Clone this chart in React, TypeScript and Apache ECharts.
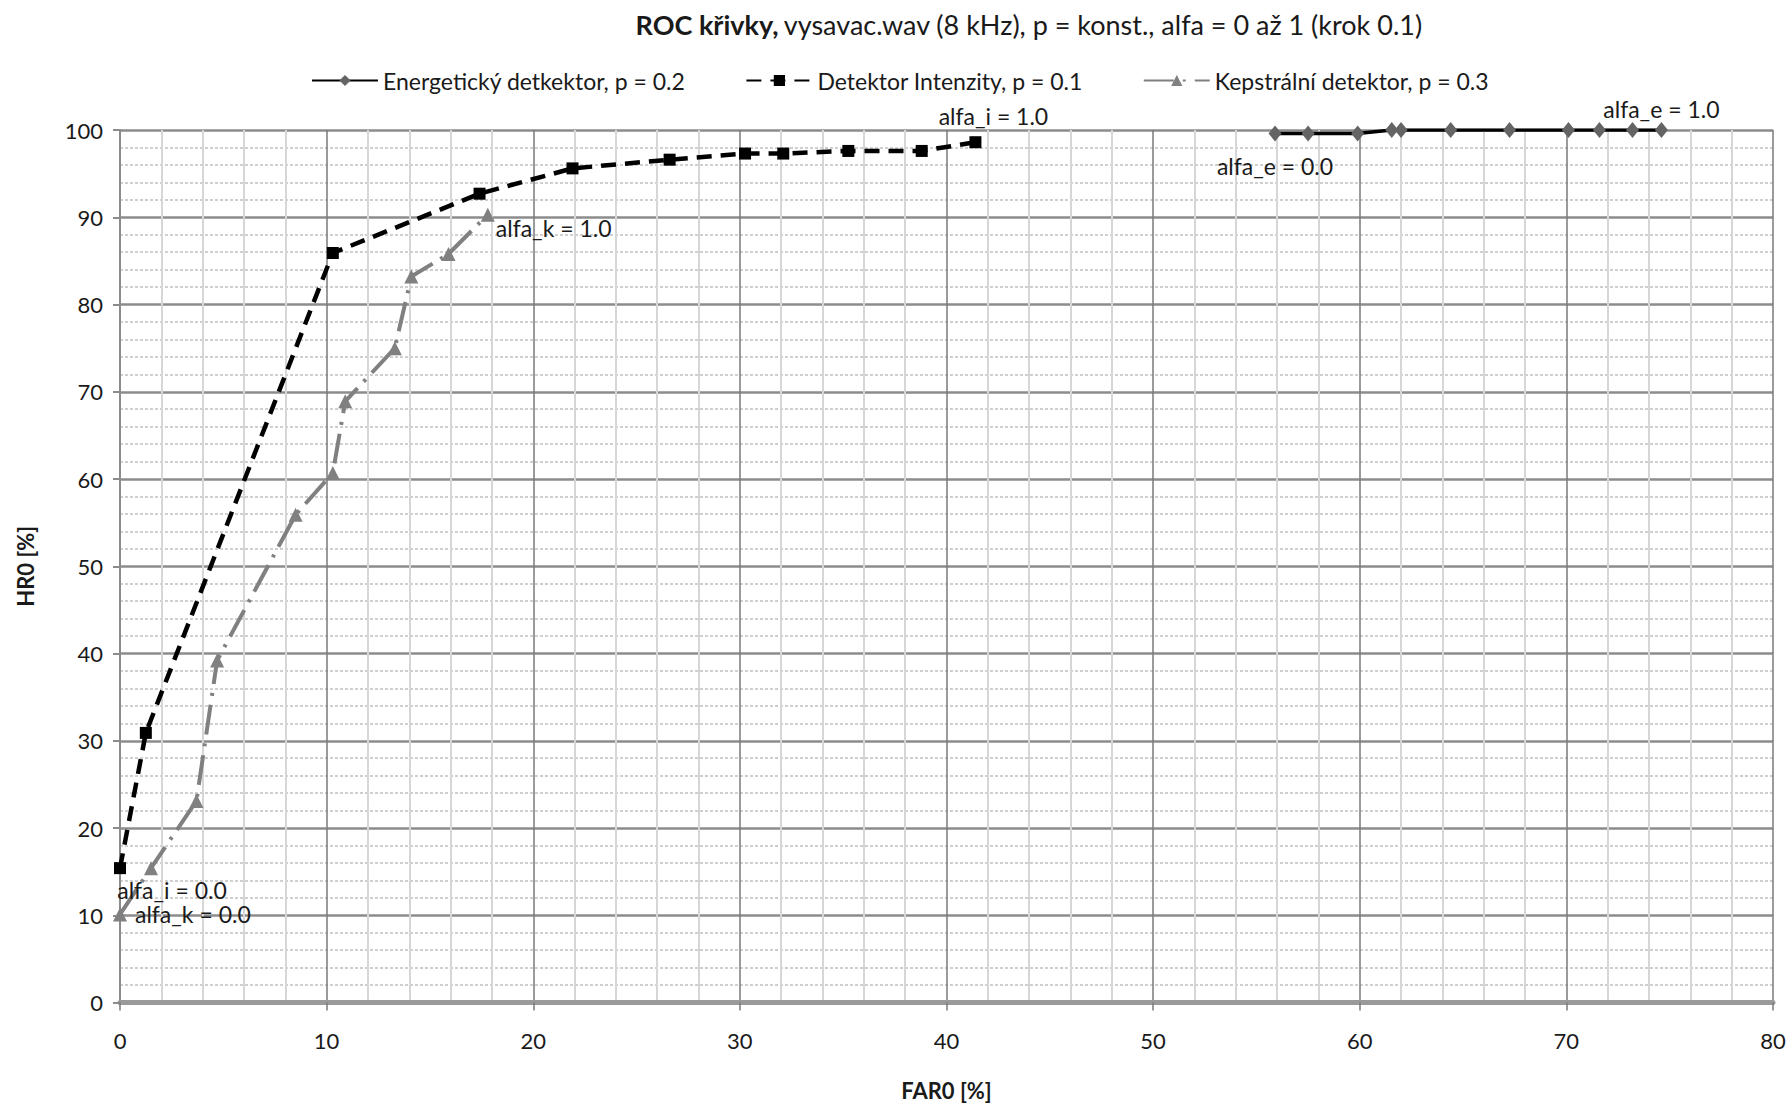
import React, { useEffect, useRef } from "react";
import * as echarts from "echarts";

// FAR0 / HR0 pairs for alfa = 0.0 … 1.0 (step 0.1)
const energyFar = [55.9, 57.5, 59.9, 61.55, 62.0, 64.4, 67.25, 70.1, 71.6, 73.2, 74.6];
const energyHr = [99.6, 99.6, 99.6, 100, 100, 100, 100, 100, 100, 100, 100];
const intensityFar = [0, 1.25, 10.3, 17.4, 21.9, 26.6, 30.25, 32.1, 35.25, 38.8, 41.4];
const intensityHr = [15.4, 30.9, 85.9, 92.7, 95.6, 96.6, 97.3, 97.3, 97.6, 97.6, 98.6];
const cepstralFar = [0, 1.5, 3.7, 4.7, 8.5, 10.3, 10.9, 13.3, 14.1, 15.9, 17.8];
const cepstralHr = [10.1, 15.4, 23.1, 39.2, 55.9, 60.7, 68.9, 75.0, 83.2, 85.8, 90.3];

const seriesNames = [
  "Energetický detkektor, p = 0.2",
  "Detektor Intenzity, p = 0.1",
  "Kepstrální detektor, p = 0.3",
];
const startLabels = ["alfa_e = 0.0", "alfa_i = 0.0", "alfa_k = 0.0"];
const endLabels = ["alfa_e = 1.0", "alfa_i = 1.0", "alfa_k = 1.0"];

const titleBold = "ROC křivky,";
const titleRest = "vysavac.wav (8 kHz), p = konst., alfa = 0 až 1 (krok 0.1)";
const xName = "FAR0 [%]";
const yName = "HR0 [%]";

const FONT = "Lato";
const TEXT = "#1a1a1a";
const labelFont = { fontFamily: FONT, fontSize: 23, color: TEXT };

type LabelCfg = { position: string; distance: number; offset: [number, number] };

function buildData(
  xs: number[],
  ys: number[],
  startText: string,
  endText: string,
  startCfg: LabelCfg,
  endCfg: LabelCfg
) {
  return xs.map((x, i) => {
    const item: any = { value: [x, ys[i]] };
    if (i === 0) {
      item.label = { show: true, formatter: startText, ...startCfg, ...labelFont };
    } else if (i === xs.length - 1) {
      item.label = { show: true, formatter: endText, ...endCfg, ...labelFont };
    }
    return item;
  });
}

export default function App() {
  const ref = useRef<HTMLDivElement>(null);

  useEffect(() => {
    if (!ref.current) return;
    const chart = echarts.init(ref.current, null, { renderer: "svg" });

    const option: any = {
      animation: false,
      backgroundColor: "#ffffff",
      title: {
        text: `{b|${titleBold}} {n|${titleRest}}`,
        left: 1024,
        top: 6,
        textAlign: "center",
        textStyle: {
          fontWeight: "normal",
          rich: {
            b: { fontFamily: FONT, fontSize: 27, fontWeight: "bold", color: TEXT },
            n: { fontFamily: FONT, fontSize: 27, fontWeight: "normal", color: TEXT },
          },
        },
      },
      legend: {
        left: 306,
        top: 64,
        itemWidth: 66,
        itemHeight: 14,
        itemGap: 60,
        textStyle: { fontFamily: FONT, fontSize: 23, color: TEXT },
        data: seriesNames,
      },
      grid: {
        left: 120,
        top: 130,
        width: 1653,
        height: 872.5,
        containLabel: false,
        outerBoundsMode: "none",
      },
      xAxis: {
        type: "value",
        min: 0,
        max: 80,
        interval: 10,
        name: xName,
        nameLocation: "middle",
        nameGap: 77,
        nameTextStyle: { fontFamily: FONT, fontSize: 22, fontWeight: "bold", color: TEXT },
        axisLine: { show: true, onZero: false, lineStyle: { color: "#9a9a9a", width: 5 } },
        axisTick: { show: true, length: 8, lineStyle: { color: "#7a7a7a", width: 1.5 } },
        axisLabel: { fontFamily: FONT, fontSize: 22, color: TEXT, margin: 27 },
        splitLine: { show: true, lineStyle: { color: "#7a7a7a", width: 1.5 } },
        minorTick: { show: false, splitNumber: 5 },
        minorSplitLine: { show: true, lineStyle: { color: "#d6d6d6", width: 2 } },
      },
      yAxis: {
        type: "value",
        min: 0,
        max: 100,
        interval: 10,
        name: yName,
        nameLocation: "middle",
        nameGap: 84,
        nameRotate: 90,
        nameTextStyle: { fontFamily: FONT, fontSize: 22, fontWeight: "bold", color: TEXT },
        axisLine: { show: true, lineStyle: { color: "#8c8c8c", width: 2 } },
        axisTick: { show: true, length: 7, lineStyle: { color: "#8c8c8c", width: 2 } },
        axisLabel: { fontFamily: FONT, fontSize: 22, color: TEXT, margin: 17 },
        splitLine: { show: true, lineStyle: { color: "#8c8c8c", width: 2.5 } },
        minorTick: { show: false, splitNumber: 5 },
        minorSplitLine: { show: true, lineStyle: { color: "#cfcfcf", width: 2, type: [3, 2] } },
      },
      series: [
        {
          name: seriesNames[0],
          type: "line",
          symbol: "diamond",
          symbolSize: [13, 16],
          itemStyle: { color: "#646464" },
          lineStyle: { color: "#000000", width: 3.5 },
          z: 5,
          data: buildData(
            energyFar,
            energyHr,
            startLabels[0],
            endLabels[0],
            { position: "bottom", distance: 13, offset: [0, 0] },
            { position: "top", distance: 2, offset: [0, 0] }
          ),
        },
        {
          name: seriesNames[1],
          type: "line",
          symbol: "rect",
          symbolSize: 12,
          itemStyle: { color: "#000000" },
          lineStyle: { color: "#000000", width: 4.5, type: [15, 9] },
          z: 4,
          data: buildData(
            intensityFar,
            intensityHr,
            startLabels[1],
            endLabels[1],
            { position: "bottom", distance: 4, offset: [52, 0] },
            { position: "top", distance: 9, offset: [18, 0] }
          ),
        },
        {
          name: seriesNames[2],
          type: "line",
          symbol: "triangle",
          symbolSize: 14,
          itemStyle: { color: "#808080" },
          lineStyle: { color: "#808080", width: 4, type: [30, 9, 3, 9] },
          z: 3,
          data: buildData(
            cepstralFar,
            cepstralHr,
            startLabels[2],
            endLabels[2],
            { position: "right", distance: 8, offset: [0, 0] },
            { position: "right", distance: 1, offset: [0, 13] }
          ),
        },
      ],
    };

    chart.setOption(option);
    return () => chart.dispose();
  }, []);

  return (
    <div
      ref={ref}
      style={{ position: "absolute", left: 0, top: 0, width: 1791, height: 1104 }}
    />
  );
}
